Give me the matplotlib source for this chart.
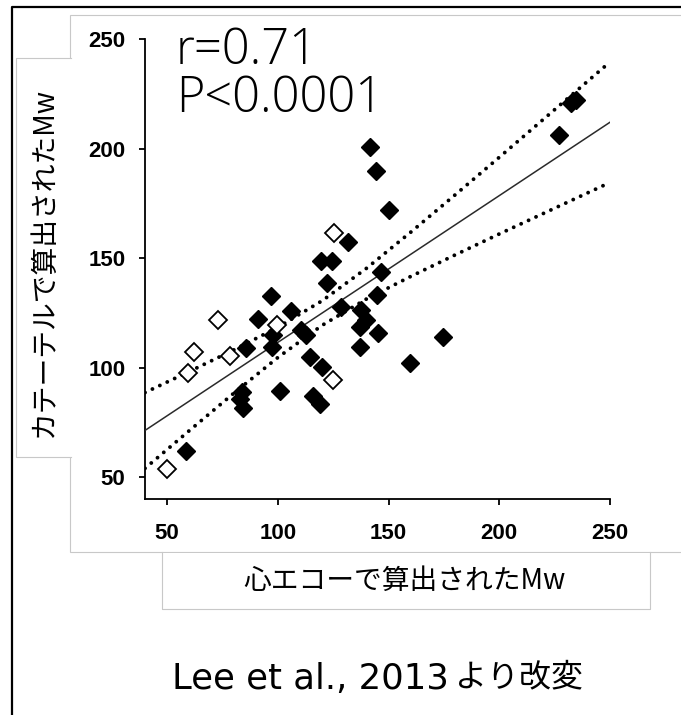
import matplotlib
matplotlib.use("Agg")
import matplotlib.pyplot as plt
from matplotlib.lines import Line2D
from matplotlib.patches import Rectangle

W, H = 681, 715

# filled diamonds
filled_x = [58.6, 84.2, 82.9, 84.0, 100.9, 116.0, 119.0, 114.4, 119.8, 85.6,
            97.5, 98.0, 91.1, 96.8, 106.0, 110.5, 112.5, 122.2, 119.5, 124.5,
            131.5, 128.7, 137.7, 139.9, 136.9, 136.9, 145.0, 144.7, 146.7, 141.4,
            144.1, 150.0, 159.6, 174.4, 227.0, 232.5, 234.5]
filled_y = [61.8, 81.5, 85.5, 89.0, 89.3, 87.0, 83.5, 104.8, 100.2, 108.8,
            109.5, 115.0, 122.0, 132.8, 125.8, 117.0, 115.0, 138.4, 148.5, 148.5,
            157.4, 127.5, 126.3, 121.7, 118.6, 109.5, 116.0, 133.1, 143.8, 200.8,
            189.9, 171.9, 101.9, 114.0, 206.2, 221.0, 222.0]

# open diamonds
open_x = [49.9, 59.6, 62.1, 72.9, 78.5, 99.8, 125.3, 124.9]
open_y = [53.5, 97.5, 107.1, 121.5, 105.3, 119.6, 161.3, 94.5]

# regression line and 95% band
fit_x = [40, 250]
fit_y = [71.3, 212.0]
band_x = [40, 60, 80, 100, 120, 140, 160, 180, 200, 220, 250]
band_upper = [88.6, 98.2, 108.0, 118.4, 130.5, 145.3, 161.8, 178.8, 196.0, 213.4, 239.5]
band_lower = [54.0, 71.2, 88.2, 104.6, 119.3, 131.3, 141.6, 151.4, 161.0, 170.4, 184.5]

ticks = [50, 100, 150, 200, 250]
stats = ["r=0.71", "P<0.0001"]
xlabel = "心エコーで算出されたMw"
ylabel = "カテーテルで算出されたMw"
source_latin = "Lee et al., 2013"
source_jp = "より改変"

jp = ["Noto Sans CJK JP", "DejaVu Sans"]


def fx(x):
    return x / W


def fy(y):
    return 1 - y / H


fig = plt.figure(figsize=(W / 100, H / 100), dpi=100)

# grey frames behind the chart
grey = "#c8c8c8"
fig.add_artist(Rectangle((fx(70), fy(552)), fx(700) - fx(70), fy(15) - fy(552),
                         transform=fig.transFigure, facecolor="white",
                         edgecolor=grey, lw=0.8, zorder=0))
# y label box (white, right side open)
fig.add_artist(Rectangle((fx(16), fy(457)), fx(72) - fx(16), fy(58) - fy(457),
                         transform=fig.transFigure, facecolor="white",
                         edgecolor="none", zorder=1))
fig.add_artist(Line2D([fx(71), fx(16), fx(16), fx(71)],
                      [fy(58), fy(58), fy(457), fy(457)],
                      transform=fig.transFigure, color=grey, lw=0.8, zorder=1))
# x label box (white, top open)
fig.add_artist(Rectangle((fx(162), fy(609)), fx(650) - fx(162), fy(553) - fy(609),
                         transform=fig.transFigure, facecolor="white",
                         edgecolor="none", zorder=1))
fig.add_artist(Line2D([fx(162), fx(162), fx(650), fx(650)],
                      [fy(552), fy(609), fy(609), fy(552)],
                      transform=fig.transFigure, color=grey, lw=0.8, zorder=1))
# black outer border (left and top)
fig.add_artist(Line2D([fx(12), fx(12), fx(690)], [fy(720), fy(7), fy(7)],
                      transform=fig.transFigure, color="black", lw=1.6, zorder=2))

ax = fig.add_axes([fx(145), fy(499), fx(610) - fx(145), fy(39) - fy(499)])
ax.patch.set_visible(False)
ax.set_xlim(40, 250)
ax.set_ylim(40, 250)

ax.plot(fit_x, fit_y, color="#2a2a2a", lw=1.1, zorder=3)
for band in (band_upper, band_lower):
    ax.plot(band_x, band, color="black", lw=2.8, linestyle=(0, (0.01, 2.1)),
            dash_capstyle="round", zorder=3)

ax.plot(filled_x, filled_y, linestyle="none", marker="D", ms=9.5,
        mfc="black", mec="black", mew=1, zorder=4)
ax.plot(open_x, open_y, linestyle="none", marker="D", ms=9,
        mfc="white", mec="black", mew=1.3, zorder=4)

for side in ("top", "right"):
    ax.spines[side].set_visible(False)
for side in ("left", "bottom"):
    ax.spines[side].set_linewidth(1.3)
ax.set_xticks(ticks)
ax.set_yticks(ticks)
ax.tick_params(direction="out", length=4, width=1.3)
ax.tick_params(axis="x", pad=13)
ax.tick_params(axis="y", pad=10)
for lab in ax.get_xticklabels() + ax.get_yticklabels():
    lab.set_fontfamily("Liberation Sans")
    lab.set_fontweight("bold")
    lab.set_fontsize(16)

for i, s in enumerate(stats):
    fig.text(fx(176), fy(51 + 48 * i), s, fontsize=35, family="Open Sans",
             weight="light", va="center", ha="left")

fig.text(fx(44), fy(262), ylabel, rotation=90, fontsize=20, family=jp,
         ha="center", va="center")
fig.text(fx(404), fy(581), xlabel, fontsize=20, family=jp,
         ha="center", va="center")
fig.text(fx(172), fy(679), source_latin, fontsize=25.5, family="DejaVu Sans",
         ha="left", va="center")
fig.text(fx(455), fy(677), source_jp, fontsize=23, family=jp,
         ha="left", va="center")

fig.savefig("out.png", dpi=100)
